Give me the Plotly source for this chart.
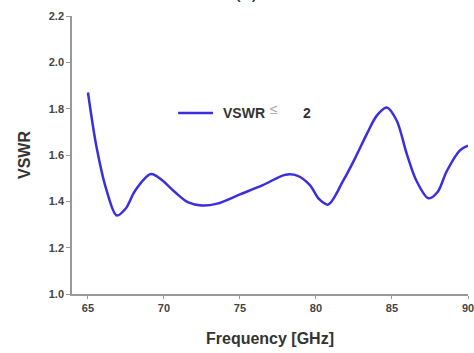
import plotly.graph_objects as go

# VSWR response across the band
freq_ghz = [65.0, 65.57, 66.23, 66.89, 67.5, 68.1, 69.14, 69.9, 70.72, 71.6,
            72.5, 73.5, 75.0, 76.5, 78.0, 78.8, 79.6, 80.2, 80.8, 81.8, 82.6,
            83.34, 84.0, 84.65, 85.3, 85.97, 86.6, 87.4, 88.0, 88.6, 89.47, 90.0]
vswr = [1.87, 1.632, 1.446, 1.339, 1.37, 1.446, 1.518, 1.49, 1.44, 1.395,
        1.382, 1.39, 1.43, 1.47, 1.515, 1.51, 1.47, 1.41, 1.386, 1.49, 1.59,
        1.69, 1.77, 1.805, 1.75, 1.605, 1.49, 1.413, 1.44, 1.53, 1.62, 1.64]

x_ticks = [65, 70, 75, 80, 85, 90]
y_ticks = [1.0, 1.2, 1.4, 1.6, 1.8, 2.0, 2.2]

line_color = "#3a2ee0"
font_family = "Liberation Sans, Arial, sans-serif"

fig = go.Figure()
fig.add_trace(go.Scatter(
    x=freq_ghz, y=vswr, mode="lines",
    line=dict(color=line_color, width=2.5, shape="spline", smoothing=0.9),
    showlegend=False,
))

# Legend entry drawn inside the plot
fig.add_shape(type="line", xref="paper", yref="paper",
              x0=0.268, x1=0.356, y0=0.651, y1=0.651,
              line=dict(color=line_color, width=2.5))
fig.add_annotation(xref="paper", yref="paper", x=0.376, y=0.651,
                   xanchor="left", yanchor="middle", showarrow=False,
                   text="<b>VSWR</b>",
                   font=dict(family=font_family, size=14, color="#333"))
fig.add_annotation(xref="paper", yref="paper", x=0.494, y=0.651, yshift=4,
                   xanchor="left", yanchor="middle", showarrow=False,
                   text="≤",
                   font=dict(family=font_family, size=14, color="#aaa"))
fig.add_annotation(xref="paper", yref="paper", x=0.578, y=0.651,
                   xanchor="left", yanchor="middle", showarrow=False,
                   text="<b>2</b>",
                   font=dict(family=font_family, size=14, color="#333"))

# Panel label, mostly above the page edge
fig.add_annotation(xref="paper", yref="paper", x=0.44, y=1.0, yshift=12,
                   xanchor="center", yanchor="bottom", showarrow=False,
                   text="(a)", font=dict(family=font_family, size=20, color="#333"))

fig.update_layout(
    width=474, height=353,
    margin=dict(l=72, r=6, t=16, b=59),
    paper_bgcolor="white", plot_bgcolor="white",
    font=dict(family=font_family, color="#333"),
    xaxis=dict(
        range=[63.95, 90.0], tickvals=x_ticks,
        ticktext=[f"<b>{v}</b>" for v in x_ticks],
        showgrid=False, zeroline=False, showline=True, linecolor="#999", linewidth=1.5,
        ticks="outside", ticklen=3, tickcolor="#999",
        tickfont=dict(size=11, color="#444"),
        ticklabeloverflow="allow", automargin=False,
        title=dict(text="<b>Frequency [GHz]</b>", font=dict(size=16, color="#333"), standoff=20),
    ),
    yaxis=dict(
        range=[1.0, 2.2], tickvals=y_ticks,
        ticktext=[f"<b>{v:.1f}</b>" for v in y_ticks],
        showgrid=False, zeroline=False, showline=True, linecolor="#999", linewidth=1.5,
        ticks="outside", ticklen=4, tickcolor="#999",
        tickfont=dict(size=11, color="#444"),
        automargin=False,
        title=dict(text="<b>VSWR</b>", font=dict(size=16, color="#333"), standoff=14),
    ),
)

fig.write_html("out.html")
